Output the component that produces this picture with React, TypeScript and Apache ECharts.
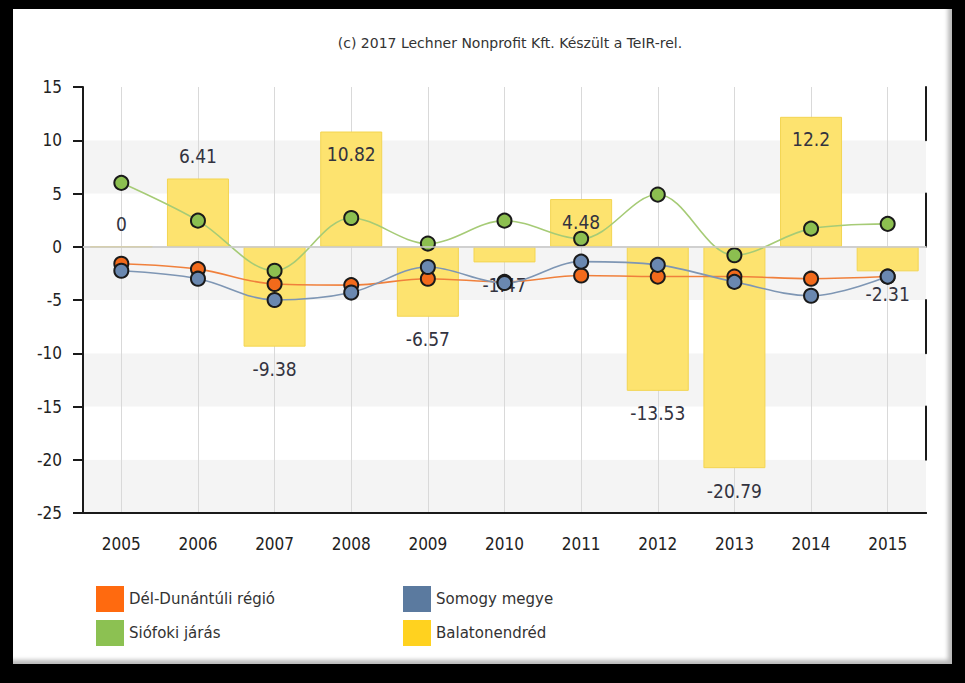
import React, { useEffect, useRef } from "react";
import * as echarts from "echarts";

const titleText = "(c) 2017 Lechner Nonprofit Kft. Készült a TeIR-rel.";
const years = ["2005", "2006", "2007", "2008", "2009", "2010", "2011", "2012", "2013", "2014", "2015"];
const delDunantuli = [-1.6, -2.1, -3.5, -3.6, -3.0, -3.3, -2.7, -2.8, -2.8, -3.0, -2.8];
const somogyMegye = [-2.25, -3.0, -5.0, -4.3, -1.9, -3.4, -1.4, -1.7, -3.3, -4.6, -2.8];
const siofokiJaras = [6.0, 2.45, -2.25, 2.7, 0.3, 2.45, 0.75, 4.9, -0.8, 1.7, 2.15];
const balatonendred = [0, 6.41, -9.38, 10.82, -6.57, -1.47, 4.48, -13.53, -20.79, 12.2, -2.31];
const seriesNames = ["Dél-Dunántúli régió", "Somogy megye", "Siófoki járás", "Balatonendréd"];
const yMin = -25;
const yMax = 15;
const yStep = 5;

const FONT = "'DejaVu Sans Condensed', 'DejaVu Sans', sans-serif";
const FONT2 = "'DejaVu Sans', sans-serif";

export default function App() {
  const ref = useRef<HTMLDivElement>(null);
  useEffect(() => {
    if (!ref.current) return;
    const chart = echarts.init(ref.current, null, { renderer: "svg" });
    const insideTop = new Set([3, 6, 9]);
    const barData = balatonendred.map((v, i) => {
      let pos = "top";
      if (v < 0) pos = "bottom";
      else if (insideTop.has(i)) pos = "insideTop";
      return { value: v, label: { position: pos } };
    });
    const lineSeries = (name: string, data: number[], fill: string, line: string) => ({
      name,
      type: "line",
      data,
      smooth: 0.35,
      symbol: "circle",
      symbolSize: 14,
      z: 3,
      lineStyle: { color: line, width: 1.6 },
      itemStyle: { color: fill, borderColor: "#1a1a1a", borderWidth: 2 },
    });
    const legendText = { fontFamily: FONT2, fontSize: 15, color: "#333" };
    chart.setOption({
      animation: false,
      backgroundColor: "transparent",
      textStyle: { fontFamily: FONT },
      title: {
        text: titleText,
        left: 505,
        textAlign: "center",
        top: 31,
        textStyle: { fontFamily: FONT2, fontSize: 14, fontWeight: "normal", color: "#333" },
      },
      grid: { left: 83, right: 39, top: 87, bottom: 170 },
      legend: [
        {
          orient: "vertical",
          left: 91,
          top: 581,
          itemWidth: 28,
          itemHeight: 26,
          itemGap: 8,
          icon: "rect",
          itemStyle: { borderWidth: 0 },
          textStyle: legendText,
          data: [
            { name: seriesNames[0], itemStyle: { color: "#FF6A0F" } },
            { name: seriesNames[2], itemStyle: { color: "#8CC152" } },
          ],
        },
        {
          orient: "vertical",
          left: 398,
          top: 581,
          itemWidth: 28,
          itemHeight: 26,
          itemGap: 8,
          icon: "rect",
          itemStyle: { borderWidth: 0 },
          textStyle: legendText,
          data: [
            { name: seriesNames[1], itemStyle: { color: "#5B7A9F" } },
            { name: seriesNames[3], itemStyle: { color: "#FFD21F" } },
          ],
        },
      ],
      xAxis: [
        {
          type: "category",
          data: years,
          boundaryGap: true,
          axisLine: { onZero: false, lineStyle: { color: "#1a1a1a", width: 2 } },
          axisTick: { alignWithLabel: true, length: 8, lineStyle: { color: "#1a1a1a", width: 2 } },
          axisLabel: { fontFamily: FONT, fontSize: 17, color: "#222", margin: 22 },
          splitLine: { show: true, alignWithLabel: true, lineStyle: { color: "#d9d9d9", width: 1 } },
        },
        {
          type: "category",
          data: years,
          position: "top",
          axisLine: { show: true, lineStyle: { color: "#d0d0d0", width: 1.5 } },
          axisTick: { show: false },
          axisLabel: { show: false },
          splitLine: { show: false },
        },
      ],
      yAxis: [
        {
          type: "value",
          min: yMin,
          max: yMax,
          interval: yStep,
          axisLine: { show: true, lineStyle: { color: "#1a1a1a", width: 2 } },
          axisTick: { show: true, length: 10, lineStyle: { color: "#1a1a1a", width: 2 } },
          axisLabel: { fontFamily: FONT, fontSize: 17, color: "#222", margin: 21 },
          splitLine: { show: false },
          splitArea: { show: true, areaStyle: { color: ["#f4f4f4", "#ffffff"] } },
        },
        {
          type: "value",
          min: yMin,
          max: yMax,
          interval: yStep,
          position: "right",
          axisLine: {
            show: true,
            lineStyle: { color: "#1a1a1a", width: 2, type: [0, 53.25, 53.25, 0] },
          },
          axisTick: { show: false },
          axisLabel: { show: false },
          splitLine: { show: false },
          splitArea: { show: false },
        },
      ],
      series: [
        {
          name: seriesNames[3],
          type: "bar",
          data: barData,
          barWidth: 62,
          z: 2,
          itemStyle: { color: "#FDE36F", borderColor: "#F3D552", borderWidth: 1 },
          label: {
            show: true,
            distance: 13,
            fontFamily: FONT,
            fontSize: 19,
            color: "#33333f",
          },
          markLine: {
            silent: true,
            symbol: "none",
            label: { show: false },
            lineStyle: { color: "#cccccc", type: "solid", width: 1.5 },
            data: [{ yAxis: 0 }],
          },
        },
        lineSeries(seriesNames[0], delDunantuli, "#F26A1B", "#F0803C"),
        lineSeries(seriesNames[1], somogyMegye, "#6A88B0", "#7E96B4"),
        lineSeries(seriesNames[2], siofokiJaras, "#8CBF50", "#A6CB76"),
      ],
    });
    return () => chart.dispose();
  }, []);

  return (
    <div style={{ position: "fixed", left: 0, top: 0, width: 965, height: 683, background: "#000" }}>
      <div
        style={{
          position: "absolute",
          left: 13,
          top: 9,
          width: 939,
          height: 655,
          background: "#fff",
          boxShadow: "inset -4px -4px 4px #b8b8b8",
        }}
      />
      <div ref={ref} style={{ position: "absolute", left: 0, top: 0, width: 965, height: 683 }} />
    </div>
  );
}
